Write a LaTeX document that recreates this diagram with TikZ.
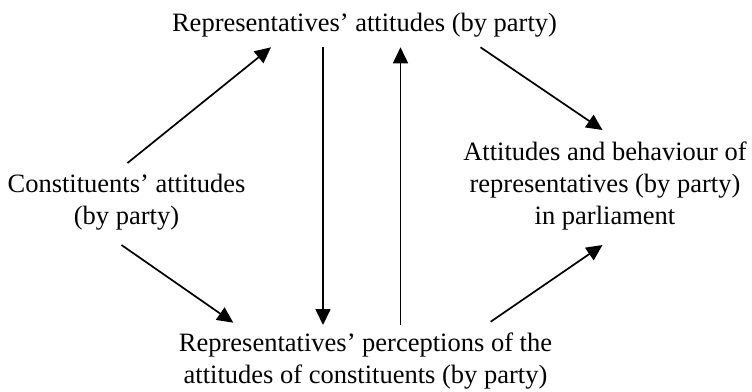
\documentclass[tikz,border=0pt]{standalone}
\usepackage{fontspec}
\setmainfont{Liberation Serif}
\usetikzlibrary{arrows.meta,calc}
\tikzset{
  lbl/.style={inner sep=0pt, align=center, anchor=base,
    font=\fontsize{26.5}{31.75}\selectfont},
  conn/.style={line width=1.7pt, -{Triangle[length=16pt,width=15pt]}}
}
\begin{document}
\begin{tikzpicture}[x=1pt,y=1pt]
\useasboundingbox (0,0) rectangle (752,-391);
% base anchor = baseline of the last line
\node[lbl] (T) at (364.5,-31) {Representatives’ attitudes (by party)};
\node[lbl] (L) at (126.5,-224) {Constituents’ attitudes\\(by party)};
\node[lbl] (R) at (605,-224) {Attitudes and behaviour of\\representatives (by party)\\in parliament};
\node[lbl] (B) at (365.5,-383.5) {Representatives’ perceptions of the\\attitudes of constituents (by party)};
\draw[conn] ($(L.base)+(1,61)$) -- ($(T.base)+(-93.5,-16.3)$);
\draw[conn] ($(T.base)+(-41.5,-16.3)$) -- ($(B.base)+(-42.5,58.5)$);
\draw[conn] ($(B.base)+(35,58.5)$) -- ($(T.base)+(36,-16.3)$);
\draw[conn] ($(T.base)+(116,-16.3)$) -- ($(R.base)+(-2.5,94)$);
\draw[conn] ($(L.base)+(-5,-21)$) -- ($(B.base)+(-132.2,60.8)$);
\draw[conn] ($(B.base)+(125.2,61.8)$) -- ($(R.base)+(-2.5,-21)$);
\end{tikzpicture}
\end{document}
